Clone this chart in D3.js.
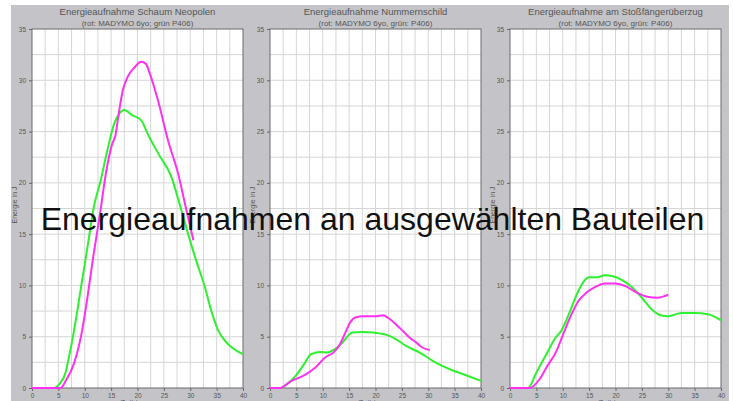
<!DOCTYPE html>
<html>
<head>
<meta charset="utf-8">
<script src="https://cdn.jsdelivr.net/npm/d3@7"></script>
<style>
  body { margin: 0; background: #fff; }
  svg { display: block; font-family: "Liberation Sans", Arial, sans-serif; }
</style>
</head>
<body>
<div id="chart"></div>
<script>
// tick values
const xTicks = [0, 5, 10, 15, 20, 25, 30, 35, 40];
const yTicks = [0, 5, 10, 15, 20, 25, 30, 35];

// panel titles
const titles = [
  ["Energieaufnahme Schaum Neopolen", "(rot: MADYMO 6yo; grün P406)"],
  ["Energieaufnahme Nummernschild", "(rot: MADYMO 6yo, grün: P406)"],
  ["Energieaufnahme am Stoßfängerüberzug", "(rot: MADYMO 6yo, grün: P406)"]
];

// [zeit ms, energie J]
const schaumP406 = [[0,0],[4.2,0],[5.2,0.4],[6.3,1.4],[7.0,3.0],[7.9,5.4],[9.5,10.5],[10.6,14.0],[11.7,17.6],[13,20.2],[14.3,23.2],[15.6,25.8],[16.5,26.7],[17.5,27.1],[19,26.6],[20.7,26.1],[22,24.7],[24,22.8],[26.4,20.6],[28,17.9],[29.6,15],[31.2,12.3],[32.8,9.8],[34,7.5],[35.3,5.6],[36.6,4.6],[38,3.9],[40,3.3]];
const schaumMadymo = [[0,0],[5.4,0],[6.5,0.8],[7.9,2.3],[9.5,5.6],[10.5,8.8],[11.7,13.1],[12.9,17],[14,20.9],[15.2,23.8],[15.8,24.6],[16.4,26.6],[17.2,29],[18.1,30.3],[19.5,31.3],[20.7,31.8],[21.6,31.6],[22.3,30.7],[23.9,28],[25.8,24.1],[27.7,20.9],[29.2,17.5],[30.6,14.4]];

const schildP406 = [[0,0],[2,0],[3.5,0.5],[4.9,1.2],[6.3,2.2],[7.8,3.3],[9.6,3.5],[10.9,3.45],[12,3.7],[13.1,4.1],[14,4.6],[15,5.2],[15.6,5.4],[17.5,5.45],[19.5,5.4],[21,5.3],[22,5.2],[23.9,4.75],[25.8,4.1],[28.4,3.45],[31,2.6],[34.2,1.8],[37.4,1.2],[40,0.7]];
const schildMadymo = [[0,0],[2,0],[3,0.3],[4.1,0.7],[5.5,1.0],[6.7,1.3],[8.6,2.0],[10.5,3.0],[12.1,3.5],[13.3,4.3],[14.2,5.3],[15.2,6.4],[16.3,6.9],[17.6,7.0],[20.1,7.0],[21.4,7.1],[22.5,6.8],[23.9,6.2],[25.3,5.5],[26.5,4.9],[27.8,4.4],[28.7,4.0],[30.3,3.7]];

const ueberzugP406 = [[0,0],[3.4,0],[5,1.5],[6.9,3.3],[8.5,4.8],[9.75,5.6],[11,7.0],[12,8.3],[13,9.5],[14,10.4],[15,10.8],[16.5,10.8],[18,11.0],[19.5,10.9],[21,10.6],[23,9.9],[25,8.8],[27,7.6],[28.5,7.1],[30,7.0],[32.5,7.3],[35,7.3],[37.5,7.2],[40,6.6]];
const ueberzugMadymo = [[0,0],[3.7,0],[5.6,0.85],[6.9,2],[8.8,3.6],[10.2,5.4],[11.5,7.0],[13,8.5],[14.5,9.3],[16,9.8],[18,10.2],[20,10.2],[22,9.9],[24,9.3],[26,8.9],[28,8.8],[30,9.1]];

const width = 733, height = 401;
const svg = d3.select("#chart").append("svg")
  .attr("width", width)
  .attr("height", height);

svg.append("rect")
  .attr("x", 11).attr("y", 5)
  .attr("width", 718).attr("height", height - 5)
  .attr("fill", "#c4c4c8");

const panels = [
  { left: 32, data: [schaumP406, schaumMadymo] },
  { left: 270, data: [schildP406, schildMadymo] },
  { left: 510, data: [ueberzugP406, ueberzugMadymo] }
];
const plotW = 211, plotTop = 29, plotBottom = 388;
const colors = ["#2ef02e", "#ff30f0"];

panels.forEach((p, i) => {
  const x = d3.scaleLinear().domain([0, 40]).range([p.left, p.left + plotW]);
  const y = d3.scaleLinear().domain([0, 35]).range([plotBottom, plotTop]);
  const g = svg.append("g");

  g.append("rect")
    .attr("x", p.left).attr("y", plotTop)
    .attr("width", plotW).attr("height", plotBottom - plotTop)
    .attr("fill", "#fff");

  // grid every 2.5
  g.selectAll(".vg").data(d3.range(2.5, 40, 2.5)).enter().append("line")
    .attr("x1", d => x(d)).attr("x2", d => x(d))
    .attr("y1", plotTop).attr("y2", plotBottom)
    .attr("stroke", "#d6d6d6").attr("stroke-width", 1);
  g.selectAll(".hg").data(d3.range(2.5, 35, 2.5)).enter().append("line")
    .attr("y1", d => y(d)).attr("y2", d => y(d))
    .attr("x1", p.left).attr("x2", p.left + plotW)
    .attr("stroke", "#d6d6d6").attr("stroke-width", 1);

  g.append("rect")
    .attr("x", p.left).attr("y", plotTop)
    .attr("width", plotW).attr("height", plotBottom - plotTop)
    .attr("fill", "none").attr("stroke", "#6a6a6a");

  const xAxis = g.append("g")
    .attr("transform", "translate(0," + plotBottom + ")")
    .call(d3.axisBottom(x).tickValues(xTicks).tickSize(3));
  const yAxis = g.append("g")
    .attr("transform", "translate(" + p.left + ",0)")
    .call(d3.axisLeft(y).tickValues(yTicks).tickSize(3));
  [xAxis, yAxis].forEach(a => {
    a.select(".domain").remove();
    a.selectAll("line").attr("stroke", "#666");
    a.selectAll("text").attr("fill", "#555").style("font-size", "6.5px");
  });
  xAxis.selectAll("text").attr("dy", "0.6em");

  const line = d3.line()
    .x(d => x(d[0]))
    .y(d => y(d[1]))
    .curve(d3.curveMonotoneX);

  p.data.forEach((s, k) => {
    g.append("path")
      .datum(s)
      .attr("d", line)
      .attr("fill", "none")
      .attr("stroke", colors[k])
      .attr("stroke-width", 2);
  });

  const cx = p.left + plotW / 2;
  g.append("text").attr("x", cx).attr("y", 14.5)
    .attr("text-anchor", "middle").attr("fill", "#555")
    .style("font-size", "9.5px").text(titles[i][0]);
  g.append("text").attr("x", cx).attr("y", 26)
    .attr("text-anchor", "middle").attr("fill", "#555")
    .style("font-size", "8px").text(titles[i][1]);

  g.append("text")
    .attr("transform", "translate(" + (p.left - 15) + ",205) rotate(-90)")
    .attr("text-anchor", "middle").attr("fill", "#555")
    .style("font-size", "7px").text("Energie in J");
  g.append("text").attr("x", cx).attr("y", 405)
    .attr("text-anchor", "middle").attr("fill", "#555")
    .style("font-size", "8px").text("Zeit in ms");
});

svg.append("text")
  .attr("x", 372.5).attr("y", 230)
  .attr("text-anchor", "middle")
  .attr("fill", "#111")
  .style("font-size", "32px")
  .text("Energieaufnahmen an ausgewählten Bauteilen");
</script>
</body>
</html>
